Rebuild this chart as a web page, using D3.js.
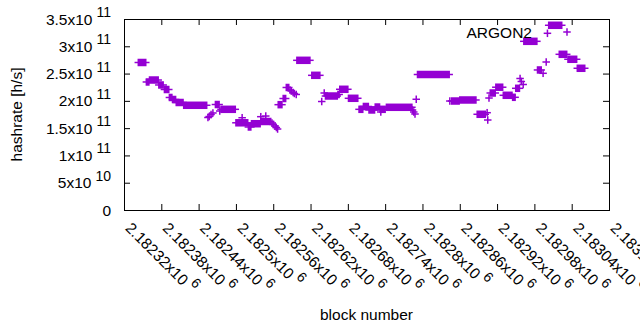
<!DOCTYPE html>
<html>
<head>
<meta charset="utf-8">
<script src="https://cdn.jsdelivr.net/npm/d3@7"></script>
<style>
  body { margin: 0; background: #fff; }
  text { font-family: "Liberation Sans", Arial, sans-serif; font-size: 15.5px; fill: #000; }
</style>
</head>
<body>
<div id="my_dataviz"></div>
<script>
// each entry is a run of blocks sharing one hashrate (single block when start == end)
var runStart = [2182343, 2182356, 2182361, 2182376, 2182385, 2182393, 2182398, 2182404, 2182416, 2182455,
  2182457, 2182460, 2182463, 2182467, 2182474, 2182476, 2182500, 2182510, 2182520, 2182525,
  2182540, 2182540, 2182548, 2182558, 2182560, 2182563, 2182565, 2182567, 2182568, 2182576,
  2182581, 2182587, 2182589, 2182592, 2182594, 2182597, 2182598, 2182622, 2182638, 2182642,
  2182644, 2182664, 2182667, 2182681, 2182698, 2182705, 2182714, 2182724, 2182732, 2182733,
  2182742, 2182784, 2182786, 2182788, 2182790, 2182792, 2182844, 2182847, 2182860, 2182888,
  2182904, 2182905, 2182907, 2182909, 2182918, 2182930, 2182945, 2182950, 2182957, 2182959,
  2182962, 2182963, 2182985, 2182994, 2182999, 2183001, 2183003, 2183020, 2183034, 2183049];
var runEnd = [2182355, 2182360, 2182375, 2182383, 2182392, 2182397, 2182403, 2182415, 2182453, 2182455,
  2182457, 2182460, 2182463, 2182473, 2182474, 2182499, 2182519, 2182510, 2182524, 2182539,
  2182556, 2182540, 2182548, 2182558, 2182560, 2182563, 2182565, 2182567, 2182574, 2182580,
  2182585, 2182587, 2182589, 2182592, 2182594, 2182597, 2182619, 2182635, 2182638, 2182642,
  2182663, 2182666, 2182680, 2182696, 2182704, 2182713, 2182723, 2182731, 2182740, 2182733,
  2182783, 2182784, 2182786, 2182788, 2182790, 2182843, 2182844, 2182859, 2182886, 2182901,
  2182904, 2182905, 2182907, 2182917, 2182929, 2182944, 2182949, 2182956, 2182957, 2182959,
  2182962, 2182984, 2182991, 2182994, 2182999, 2183001, 2183024, 2183032, 2183048, 2183061];
var hashrate = [2.703e11, 2.346e11, 2.382e11, 2.291e11, 2.208e11, 2.062e11, 2.025e11, 1.970e11, 1.919e11, 1.695e11,
  1.713e11, 1.750e11, 1.778e11, 1.933e11, 1.814e11, 1.845e11, 1.598e11, 1.691e11, 1.521e11, 1.581e11,
  1.622e11, 1.710e11, 1.722e11, 1.594e11, 1.567e11, 1.539e11, 1.512e11, 1.484e11, 1.930e11, 2.043e11,
  2.245e11, 2.199e11, 2.180e11, 2.153e11, 2.135e11, 2.117e11, 2.743e11, 2.468e11, 1.988e11, 2.144e11,
  2.089e11, 2.117e11, 2.212e11, 2.047e11, 1.845e11, 1.897e11, 1.833e11, 1.887e11, 1.845e11, 1.796e11,
  1.882e11, 1.833e11, 1.796e11, 1.759e11, 2.029e11, 2.483e11, 1.997e11, 1.997e11, 2.016e11, 1.754e11,
  1.783e11, 1.649e11, 2.052e11, 2.144e11, 2.250e11, 2.102e11, 2.065e11, 2.230e11, 2.410e11, 2.355e11,
  2.300e11, 3.091e11, 2.566e11, 2.505e11, 2.712e11, 3.238e11, 3.385e11, 2.853e11, 2.762e11, 2.597e11];

var seriesName = "ARGON2";

var xTickValues = [2182320, 2182380, 2182440, 2182500, 2182560, 2182620, 2182680,
  2182740, 2182800, 2182860, 2182920, 2182980, 2183040, 2183100];
var xTickText = ["2.18232x10", "2.18238x10", "2.18244x10", "2.1825x10", "2.18256x10", "2.18262x10", "2.18268x10",
  "2.18274x10", "2.1828x10", "2.18286x10", "2.18292x10", "2.18298x10", "2.18304x10", "2.1831x10"];
var xTickExp = "6";

var yTickValues = [0, 5e10, 1e11, 1.5e11, 2e11, 2.5e11, 3e11, 3.5e11];
var yTickText = ["0", "5x10", "1x10", "1.5x10", "2x10", "2.5x10", "3x10", "3.5x10"];
var yTickExp = ["", "10", "11", "11", "11", "11", "11", "11"];

var margin = { top: 19, right: 31, bottom: 120, left: 124 },
  width = 640 - margin.left - margin.right,
  height = 330 - margin.top - margin.bottom;

var color = "#9400d3";

var root = d3.select("#my_dataviz")
  .append("svg")
  .attr("width", 640)
  .attr("height", 330);

var svg = root.append("g")
  .attr("transform", "translate(" + margin.left + "," + margin.top + ")");

var x = d3.scaleLinear()
  .domain([xTickValues[0], xTickValues[xTickValues.length - 1]])
  .range([0, width]);

var y = d3.scaleLinear()
  .domain([0, 3.5e11])
  .range([height, 0]);

// ticks point inwards on all four sides, like gnuplot
function noDomain(g) { g.select(".domain").remove(); }

svg.append("g")
  .attr("transform", "translate(0," + height + ")")
  .call(d3.axisBottom(x).tickValues(xTickValues).tickSize(-6).tickFormat(""))
  .call(noDomain);
svg.append("g")
  .call(d3.axisTop(x).tickValues(xTickValues).tickSize(-6).tickFormat(""))
  .call(noDomain);
svg.append("g")
  .call(d3.axisLeft(y).tickValues(yTickValues).tickSize(-6).tickFormat(""))
  .call(noDomain);
svg.append("g")
  .attr("transform", "translate(" + width + ",0)")
  .call(d3.axisRight(y).tickValues(yTickValues).tickSize(-6).tickFormat(""))
  .call(noDomain);

svg.selectAll(".tick line").attr("stroke", "#000");

svg.append("rect")
  .attr("x", 0.5).attr("y", 0.5)
  .attr("width", width).attr("height", height)
  .attr("fill", "none")
  .attr("stroke", "#000");

// y tick labels with superscript exponent
var yLab = svg.append("g").selectAll("text")
  .data(yTickValues)
  .join("text")
  .attr("x", -13)
  .attr("y", function (d) { return y(d) + 5.5; })
  .attr("text-anchor", "end");
yLab.append("tspan").text(function (d, i) { return yTickText[i]; });
yLab.append("tspan")
  .attr("dx", function (d, i) { return yTickExp[i] ? 4 : 0; })
  .attr("dy", -7.5)
  .style("font-size", "14px")
  .text(function (d, i) { return yTickExp[i]; });

// rotated x tick labels
var xLab = svg.append("g").selectAll("text")
  .data(xTickValues)
  .join("text")
  .attr("transform", function (d) { return "translate(" + (x(d) + 0.5) + "," + (height + 19) + ") rotate(45)"; });
xLab.append("tspan").text(function (d, i) { return xTickText[i]; });
xLab.append("tspan")
  .attr("dx", 4)
  .attr("dy", -7.5)
  .style("font-size", "14px")
  .text(xTickExp);

// axis titles
svg.append("text")
  .attr("x", width / 2)
  .attr("y", 301)
  .attr("text-anchor", "middle")
  .text("block number");

svg.append("text")
  .attr("transform", "translate(" + (22 - margin.left) + "," + (height / 2) + ") rotate(-90)")
  .attr("text-anchor", "middle")
  .text("hashrate [h/s]");

// points: a run of consecutive '+' markers merges into a bar with arms
var runs = runStart.map(function (s, i) { return { start: s, end: runEnd[i], value: hashrate[i] }; });

var pts = svg.append("g").selectAll("g")
  .data(runs)
  .join("g");

pts.append("rect")
  .attr("x", function (d) { return x(d.start) - 0.75; })
  .attr("y", function (d) { return y(d.value) - 3.75; })
  .attr("width", function (d) { return x(d.end) - x(d.start) + 1.5; })
  .attr("height", 7.5)
  .attr("fill", color);

pts.append("line")
  .attr("x1", function (d) { return x(d.start) - 3.75; })
  .attr("x2", function (d) { return x(d.end) + 3.75; })
  .attr("y1", function (d) { return y(d.value); })
  .attr("y2", function (d) { return y(d.value); })
  .attr("stroke", color)
  .attr("stroke-width", 1.5);

// key
var key = svg.append("g").attr("transform", "translate(" + (532 - margin.left) + "," + (32 - margin.top) + ")");
key.append("text")
  .attr("x", 0)
  .attr("y", 5.5)
  .attr("text-anchor", "end")
  .text(seriesName);
key.append("line")
  .attr("x1", 31.25).attr("x2", 38.75)
  .attr("y1", 0).attr("y2", 0)
  .attr("stroke", color).attr("stroke-width", 1.5);
key.append("line")
  .attr("x1", 35).attr("x2", 35)
  .attr("y1", -3.75).attr("y2", 3.75)
  .attr("stroke", color).attr("stroke-width", 1.5);
</script>
</body>
</html>
